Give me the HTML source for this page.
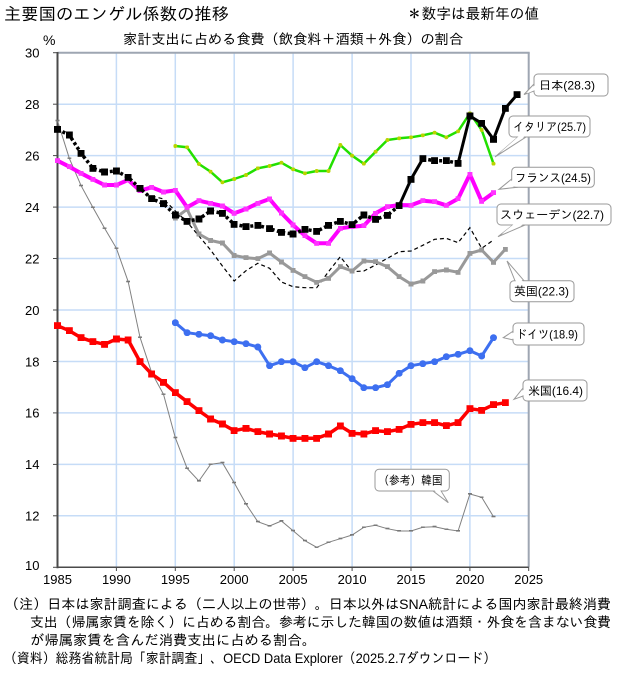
<!DOCTYPE html>
<html><head><meta charset="utf-8"><style>
html,body{margin:0;padding:0;background:#fff;}
svg{display:block;}
text{font-family:"Liberation Sans","IPAGothic","Noto Sans CJK JP",sans-serif;fill:#000;}
</style></head><body>
<svg width="626" height="684" viewBox="0 0 626 684" xmlns="http://www.w3.org/2000/svg">
<defs>
<marker id="mJ" viewBox="0 0 7 7" refX="3.5" refY="3.5" markerWidth="7" markerHeight="7" markerUnits="userSpaceOnUse"><rect width="7" height="7" fill="#000"/></marker>
<marker id="mUS" viewBox="0 0 7 7" refX="3.5" refY="3.5" markerWidth="7" markerHeight="7" markerUnits="userSpaceOnUse"><rect width="7" height="7" fill="#ff0000"/></marker>
<marker id="mUK" viewBox="0 0 5 5" refX="2.5" refY="2.5" markerWidth="5" markerHeight="5" markerUnits="userSpaceOnUse"><rect width="5" height="5" fill="#999"/></marker>
<marker id="mFR" viewBox="0 0 5 5" refX="2.5" refY="2.5" markerWidth="5" markerHeight="5" markerUnits="userSpaceOnUse"><rect width="5" height="5" fill="#ff33ff"/></marker>
<marker id="mDE" viewBox="0 0 7 7" refX="3.5" refY="3.5" markerWidth="7" markerHeight="7" markerUnits="userSpaceOnUse"><circle cx="3.5" cy="3.5" r="3.5" fill="#3d6ff0"/></marker>
<marker id="mIT" viewBox="0 0 4 4" refX="2" refY="2" markerWidth="4" markerHeight="4" markerUnits="userSpaceOnUse"><circle cx="2" cy="2" r="2" fill="#b8d400"/></marker>
<marker id="mKR" viewBox="0 0 4 2" refX="2" refY="1" markerWidth="4" markerHeight="2" markerUnits="userSpaceOnUse"><rect width="4" height="1.6" fill="#777"/></marker>
</defs>
<rect x="0" y="0" width="626" height="684" fill="#fff"/>

<!-- titles -->
<text x="4" y="20" font-size="17" textLength="225" lengthAdjust="spacingAndGlyphs">主要国のエンゲル係数の推移</text>
<text x="407" y="19" font-size="15" textLength="132" lengthAdjust="spacingAndGlyphs">＊数字は最新年の値</text>
<text x="43" y="45" font-size="14">%</text>
<text x="123" y="44" font-size="14" textLength="340" lengthAdjust="spacingAndGlyphs">家計支出に占める食費（飲食料＋酒類＋外食）の割合</text>

<!-- grid -->
<g stroke="#c6dcf7" stroke-width="1.5">
<line x1="57.5" y1="104.2" x2="528.7" y2="104.2"/>
<line x1="57.5" y1="155.6" x2="528.7" y2="155.6"/>
<line x1="57.5" y1="207.1" x2="528.7" y2="207.1"/>
<line x1="57.5" y1="258.5" x2="528.7" y2="258.5"/>
<line x1="57.5" y1="310" x2="528.7" y2="310"/>
<line x1="57.5" y1="361.5" x2="528.7" y2="361.5"/>
<line x1="57.5" y1="412.9" x2="528.7" y2="412.9"/>
<line x1="57.5" y1="464.4" x2="528.7" y2="464.4"/>
<line x1="57.5" y1="515.8" x2="528.7" y2="515.8"/>
<line x1="116.4" y1="52.7" x2="116.4" y2="567.3"/>
<line x1="175.3" y1="52.7" x2="175.3" y2="567.3"/>
<line x1="234.2" y1="52.7" x2="234.2" y2="567.3"/>
<line x1="293.1" y1="52.7" x2="293.1" y2="567.3"/>
<line x1="352.1" y1="52.7" x2="352.1" y2="567.3"/>
<line x1="411" y1="52.7" x2="411" y2="567.3"/>
<line x1="469.9" y1="52.7" x2="469.9" y2="567.3"/>
</g>
<!-- border -->
<line x1="57.5" y1="52.7" x2="529.7" y2="52.7" stroke="#9ea6b2" stroke-width="2"/>
<line x1="528.7" y1="52.7" x2="528.7" y2="567.3" stroke="#9ea6b2" stroke-width="2"/>
<line x1="57.5" y1="52" x2="57.5" y2="568.3" stroke="#4a4a4a" stroke-width="2"/>
<line x1="57.5" y1="567.3" x2="528.7" y2="567.3" stroke="#4a4a4a" stroke-width="1.5"/>
<g stroke="#4a4a4a" stroke-width="1">
<line x1="53" y1="52.7" x2="57.5" y2="52.7"/><line x1="53" y1="104.2" x2="57.5" y2="104.2"/><line x1="53" y1="155.6" x2="57.5" y2="155.6"/><line x1="53" y1="207.1" x2="57.5" y2="207.1"/><line x1="53" y1="258.5" x2="57.5" y2="258.5"/><line x1="53" y1="310" x2="57.5" y2="310"/><line x1="53" y1="361.5" x2="57.5" y2="361.5"/><line x1="53" y1="412.9" x2="57.5" y2="412.9"/><line x1="53" y1="464.4" x2="57.5" y2="464.4"/><line x1="53" y1="515.8" x2="57.5" y2="515.8"/><line x1="53" y1="567.3" x2="57.5" y2="567.3"/>
<line x1="116.4" y1="567.3" x2="116.4" y2="571"/><line x1="175.3" y1="567.3" x2="175.3" y2="571"/><line x1="234.2" y1="567.3" x2="234.2" y2="571"/><line x1="293.1" y1="567.3" x2="293.1" y2="571"/><line x1="352.1" y1="567.3" x2="352.1" y2="571"/><line x1="411" y1="567.3" x2="411" y2="571"/><line x1="469.9" y1="567.3" x2="469.9" y2="571"/><line x1="528.7" y1="567.3" x2="528.7" y2="571"/>
</g>

<!-- y labels -->
<g font-size="13" text-anchor="end">
<text x="39.5" y="57.5">30</text><text x="39.5" y="109">28</text><text x="39.5" y="160.4">26</text><text x="39.5" y="211.9">24</text><text x="39.5" y="263.3">22</text><text x="39.5" y="314.8">20</text><text x="39.5" y="366.3">18</text><text x="39.5" y="417.7">16</text><text x="39.5" y="469.2">14</text><text x="39.5" y="520.6">12</text><text x="39.5" y="570">10</text>
</g>
<!-- x labels -->
<g font-size="13" text-anchor="middle">
<text x="57.5" y="584">1985</text><text x="116.4" y="584">1990</text><text x="175.3" y="584">1995</text><text x="234.2" y="584">2000</text><text x="293.1" y="584">2005</text><text x="352.1" y="584">2010</text><text x="411" y="584">2015</text><text x="469.9" y="584">2020</text><text x="528.7" y="584">2025</text>
</g>

<!-- Korea -->
<polyline fill="none" stroke="#808080" stroke-width="1" marker-start="url(#mKR)" marker-mid="url(#mKR)" marker-end="url(#mKR)" points="57.5,120.7 69.3,158.3 81.1,185.7 92.8,207.3 104.6,228.3 116.4,248.3 128.2,281.7 140,337.3 151.7,372.7 163.5,394.3 175.3,437.7 187.1,468.3 198.9,481 210.6,464.3 222.4,462.7 234.2,482.7 246,504 257.8,521.7 269.6,526 281.4,521 293.1,530.7 304.9,540.7 316.7,547.3 328.5,542.3 340.3,538.7 352.1,535 363.8,527.3 375.6,525.3 387.4,528.7 399.2,531 411,531 422.8,527.3 434.6,526.7 446.3,529.3 458.1,531 469.9,494 481.7,497.3 493.5,516.7"/>

<!-- Sweden -->
<polyline fill="none" stroke="#000" stroke-width="1.2" stroke-dasharray="4 3" points="151.7,196 163.5,199 175.3,211 187.1,222 198.9,236 210.6,250 222.4,266 234.2,281 246,270.7 257.8,263.3 269.6,268.3 281.4,282 293.1,286.7 304.9,287.7 316.7,287.7 328.5,271.7 340.3,256.7 352.1,271.7 363.8,271 375.6,265 387.4,258.3 399.2,251.7 411,251 422.8,245.3 434.6,239.3 446.3,238.3 458.1,242.7 469.9,227.7 481.7,248.3 493.5,240"/>

<!-- UK -->
<polyline fill="none" stroke="#999" stroke-width="3" stroke-linejoin="round" marker-start="url(#mUK)" marker-mid="url(#mUK)" marker-end="url(#mUK)" points="175.3,218 187.1,209.3 198.9,234 210.6,240.5 222.4,243 234.2,255.5 246,257.7 257.8,258.7 269.6,253 281.4,262 293.1,270.3 304.9,276.7 316.7,282.3 328.5,278.3 340.3,266.7 352.1,271 363.8,261 375.6,261.7 387.4,266.7 399.2,276.7 411,284 422.8,281 434.6,271.7 446.3,270 458.1,272.3 469.9,253.3 481.7,250 493.5,262.3 505.3,249.3"/>

<!-- Germany -->
<polyline fill="none" stroke="#3d6ff0" stroke-width="3" stroke-linejoin="round" marker-start="url(#mDE)" marker-mid="url(#mDE)" marker-end="url(#mDE)" points="175.3,322.7 187.1,332.7 198.9,334.3 210.6,335.7 222.4,340 234.2,341.7 246,343.7 257.8,347 269.6,365.7 281.4,361.7 293.1,361.7 304.9,367.7 316.7,361.7 328.5,365.7 340.3,370.7 352.1,378.7 363.8,387.7 375.6,387.7 387.4,384.7 399.2,373.3 411,365.7 422.8,363.7 434.6,361.7 446.3,356.7 458.1,354.3 469.9,350.7 481.7,356 493.5,337.7"/>

<!-- US -->
<polyline fill="none" stroke="#ff0000" stroke-width="3.5" stroke-linejoin="round" marker-start="url(#mUS)" marker-mid="url(#mUS)" marker-end="url(#mUS)" points="57.5,325.7 69.3,330.7 81.1,337.7 92.8,341.7 104.6,344.3 116.4,339 128.2,340 140,361.7 151.7,374 163.5,382.3 175.3,392.7 187.1,401.7 198.9,410.7 210.6,419 222.4,424 234.2,430.7 246,428.3 257.8,431.7 269.6,434 281.4,436 293.1,438.3 304.9,438.3 316.7,438.3 328.5,434 340.3,426 352.1,433.3 363.8,434 375.6,430.7 387.4,431.7 399.2,429.3 411,424.3 422.8,422.7 434.6,422.7 446.3,425.7 458.1,422.7 469.9,408.7 481.7,410.3 493.5,404.7 505.3,402.7"/>

<!-- Italy -->
<polyline fill="none" stroke="#22e000" stroke-width="2.5" stroke-linejoin="round" marker-start="url(#mIT)" marker-mid="url(#mIT)" marker-end="url(#mIT)" points="175.3,146 187.1,147.3 198.9,164 210.6,171.7 222.4,182.3 234.2,179 246,175 257.8,168.3 269.6,166 281.4,162.7 293.1,169.3 304.9,173.3 316.7,171 328.5,171 340.3,145 352.1,155.7 363.8,163.7 375.6,151.7 387.4,140 399.2,138.3 411,137.3 422.8,135.3 434.6,132.7 446.3,137.3 458.1,131.3 469.9,113.3 481.7,130 493.5,163.7"/>

<!-- France -->
<polyline fill="none" stroke="#ff00ff" stroke-width="4" stroke-linejoin="round" marker-start="url(#mFR)" marker-mid="url(#mFR)" marker-end="url(#mFR)" points="57.5,160.7 69.3,166.7 81.1,173.3 92.8,179.3 104.6,185 116.4,185 128.2,180 140,190.7 151.7,187.3 163.5,192 175.3,190.3 187.1,207.3 198.9,200.7 210.6,203.3 222.4,206 234.2,213.3 246,209 257.8,203.3 269.6,199 281.4,213 293.1,225 304.9,235.7 316.7,243.3 328.5,243.3 340.3,228.3 352.1,226.7 363.8,225.7 375.6,213.3 387.4,206.7 399.2,205 411,205.3 422.8,200.7 434.6,201.7 446.3,205.3 458.1,198.7 469.9,174.3 481.7,201.3 493.5,192.7"/>

<!-- Japan -->
<g fill="none" stroke="#000" stroke-linejoin="round">
<polyline stroke-width="3.5" stroke-dasharray="3 2.5" points="57.5,129.3 69.3,135 81.1,153.3 92.8,168.3 104.6,172 116.4,171 128.2,177.3 140,188.3 151.7,198.7 163.5,203.7 175.3,215 187.1,221.3 198.9,219 210.6,211 222.4,213.3 234.2,224.3 246,226.7 257.8,225.3 269.6,228.7 281.4,232.3 293.1,234 304.9,229.3 316.7,231.3 328.5,225.3 340.3,221.3 352.1,224.7 363.8,215 375.6,219.3 387.4,215.3 399.2,205.7"/>
<polyline stroke-width="3" points="399.2,205.7 411,179.3 422.8,158.7"/>
<polyline stroke-width="3.5" stroke-dasharray="3 2.5" points="422.8,158.7 434.6,160.7 446.3,160.7 458.1,163.3"/>
<polyline stroke-width="3" points="458.1,163.3 469.9,116 481.7,123.3 493.5,139.3 505.3,108.3 517.1,94.7"/>
</g>
<polyline fill="none" stroke="none" marker-start="url(#mJ)" marker-mid="url(#mJ)" marker-end="url(#mJ)" points="57.5,129.3 69.3,135 81.1,153.3 92.8,168.3 104.6,172 116.4,171 128.2,177.3 140,188.3 151.7,198.7 163.5,203.7 175.3,215 187.1,221.3 198.9,219 210.6,211 222.4,213.3 234.2,224.3 246,226.7 257.8,225.3 269.6,228.7 281.4,232.3 293.1,234 304.9,229.3 316.7,231.3 328.5,225.3 340.3,221.3 352.1,224.7 363.8,215 375.6,219.3 387.4,215.3 399.2,205.7 411,179.3 422.8,158.7 434.6,160.7 446.3,160.7 458.1,163.3 469.9,116 481.7,123.3 493.5,139.3 505.3,108.3 517.1,94.7"/>

<!-- callouts -->
<g stroke="#999" stroke-width="1" fill="#fff">
<polygon points="534,84 524,94.5 534,91"/>
<rect x="534" y="74" width="74" height="22" rx="4"/>
<polygon points="518,137 495,157 526,137"/>
<rect x="509" y="116" width="81" height="21" rx="4"/>
<polygon points="511.7,179 499,189.3 517,187.3"/>
<rect x="511.7" y="167.3" width="82.6" height="20" rx="4"/>
<polygon points="513,225 498,236.7 525,225"/>
<rect x="497" y="204" width="114" height="21" rx="4"/>
<polygon points="515,280.7 507,261 524,280.7"/>
<rect x="510" y="280.7" width="64" height="21" rx="4"/>
<polygon points="513.3,331 503.3,337.7 513.3,340"/>
<rect x="513" y="323" width="71" height="22" rx="4"/>
<polygon points="523,388 514,399.3 523,396"/>
<rect x="523" y="380" width="64" height="21" rx="4"/>
<polygon points="433,491 448.3,502.7 441,491"/>
<rect x="375" y="469.3" width="74.3" height="21.7" rx="4"/>
</g>
<g fill="#fff" stroke="none">
<polygon points="535,85 527,93.5 535,90"/>
<polygon points="519,136 499,153.5 525,136"/>
<polygon points="512.7,180 502,188.3 516.5,186.3"/>
<polygon points="514,224 502,233.7 524,224"/>
<polygon points="516,281.7 509.5,265 523,281.7"/>
<polygon points="514.3,332 506.5,337.5 514.3,339"/>
<polygon points="524,389 517,397.5 524,395"/>
<polygon points="434,490 445.5,499.5 440,490"/>
</g>
<g font-size="12">
<text x="539" y="89.5" textLength="56" lengthAdjust="spacingAndGlyphs">日本(28.3)</text>
<text x="513" y="131" textLength="73" lengthAdjust="spacingAndGlyphs">イタリア(25.7)</text>
<text x="515" y="182" textLength="76" lengthAdjust="spacingAndGlyphs">フランス(24.5)</text>
<text x="500" y="219" textLength="104" lengthAdjust="spacingAndGlyphs">スウェーデン(22.7)</text>
<text x="514" y="295.7" textLength="55" lengthAdjust="spacingAndGlyphs">英国(22.3)</text>
<text x="516" y="338.5" textLength="62" lengthAdjust="spacingAndGlyphs">ドイツ(18.9)</text>
<text x="528" y="395" textLength="55" lengthAdjust="spacingAndGlyphs">米国(16.4)</text>
<text x="378.5" y="484.5" textLength="64" lengthAdjust="spacingAndGlyphs">（参考）韓国</text>
</g>

<!-- notes -->
<g font-size="14">
<text x="5" y="609" textLength="606" lengthAdjust="spacingAndGlyphs">（注）日本は家計調査による（二人以上の世帯）。日本以外はSNA統計による国内家計最終消費</text>
<text x="30" y="627" textLength="581" lengthAdjust="spacingAndGlyphs">支出（帰属家賃を除く）に占める割合。参考に示した韓国の数値は酒類・外食を含まない食費</text>
<text x="30" y="645" textLength="286" lengthAdjust="spacingAndGlyphs">が帰属家賃を含んだ消費支出に占める割合。</text>
<text x="4" y="663" textLength="492" lengthAdjust="spacingAndGlyphs">（資料）総務省統計局「家計調査」、OECD Data Explorer（2025.2.7ダウンロード）</text>
</g>
</svg>
</body></html>
